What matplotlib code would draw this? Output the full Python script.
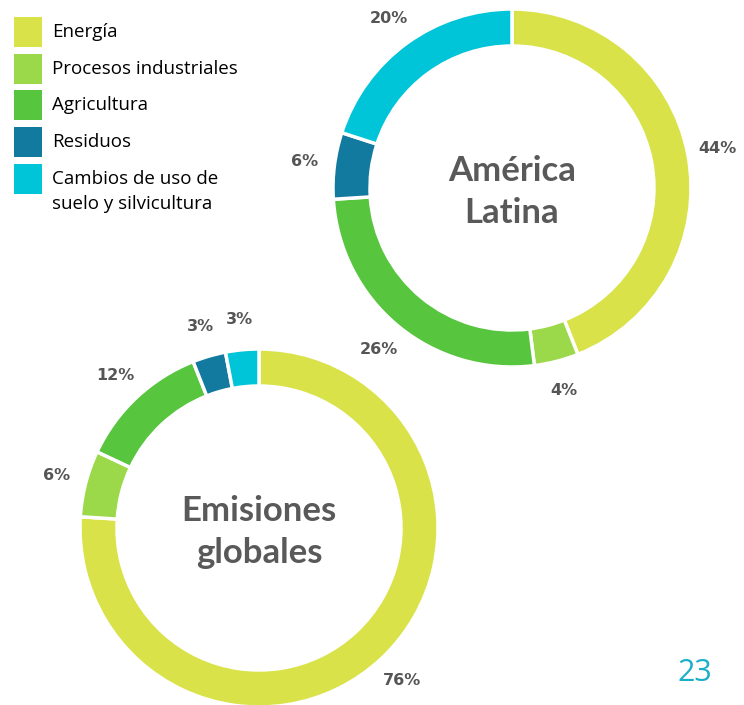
import matplotlib
matplotlib.use('Agg')
import matplotlib.pyplot as plt
from matplotlib.patches import Rectangle

# categories shared by both donuts
categories = ['Energía', 'Procesos industriales', 'Agricultura', 'Residuos',
              'Cambios de uso de\nsuelo y silvicultura']
colors = ['#d9e249', '#9bd94a', '#58c53f', '#137a9f', '#00c4d8']

latam_values = [44, 4, 26, 6, 20]
global_values = [76, 6, 12, 3, 3]

latam_title = 'América\nLatina'
global_title = 'Emisiones\nglobales'
page_number = '23'

W, H = 744, 705
fig = plt.figure(figsize=(W / 100, H / 100), dpi=100)
ax = fig.add_axes([0, 0, 1, 1])


def donut(values, center, title):
    ## draws one ring with labels outside and the title in the hole
    wedges, _, pcts = ax.pie(values, colors=colors, center=center, radius=179,
                             startangle=90, counterclock=False,
                             autopct='%.0f%%', pctdistance=1.17,
                             wedgeprops=dict(width=37, edgecolor='white', linewidth=2.5),
                             textprops=dict(color='#555555', fontsize=11.5,
                                            fontweight='bold', family='DejaVu Sans'),
                             frame=True)
    ax.text(center[0], center[1] - 4, title, ha='center', va='center',
            fontsize=25, fontweight='bold', color='#595959', family='Lato',
            linespacing=1.4)
    return wedges


donut(latam_values, (512, H - 188), latam_title)
donut(global_values, (259, H - 528), global_title)

# restore limits changed by pie(frame=True)
ax.set_xlim(0, W)
ax.set_ylim(0, H)
ax.set_aspect('equal')
ax.axis('off')

## legend drawn by hand: colour squares and labels
row_y = [32, 69, 105, 142, 179]
for cat, col, y in zip(categories, colors, row_y):
    ax.add_patch(Rectangle((14, H - y - 15), 28, 30, facecolor=col, edgecolor='none'))
    if '\n' in cat:
        ax.text(52, H - y + 9, cat, ha='left', va='top',
                fontsize=13.5, color='black', family='Open Sans', linespacing=1.5)
    else:
        ax.text(52, H - y, cat, ha='left', va='center',
                fontsize=13.5, color='black', family='Open Sans')

ax.text(695, H - 673, page_number, ha='center', va='center', fontsize=22,
        color='#1aafc8', family='Open Sans')

fig.savefig('out.png', dpi=100)
